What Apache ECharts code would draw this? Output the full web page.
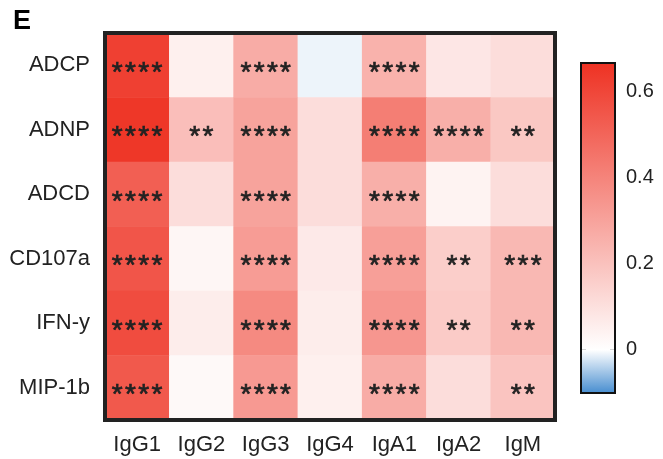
<!DOCTYPE html>
<html>
<head>
<meta charset="utf-8">
<script src="https://cdn.jsdelivr.net/npm/echarts@6/dist/echarts.min.js"></script>
<style>
html, body { margin: 0; padding: 0; background: #fff; }
#main { width: 663px; height: 459px; }
</style>
</head>
<body>
<div id="main"></div>
<script>
var isotypes = ['IgG1', 'IgG2', 'IgG3', 'IgG4', 'IgA1', 'IgA2', 'IgM'];
var functions = ['ADCP', 'ADNP', 'ADCD', 'CD107a', 'IFN-y', 'MIP-1b'];

// correlation per row (function), columns follow isotypes
var valADCP   = [0.62, 0.05, 0.27, -0.01, 0.25, 0.08, 0.11];
var valADNP   = [0.65, 0.21, 0.30, 0.11, 0.42, 0.26, 0.18];
var valADCD   = [0.52, 0.11, 0.30, 0.11, 0.26, 0.04, 0.11];
var valCD107a = [0.55, 0.03, 0.32, 0.07, 0.31, 0.16, 0.23];
var valIFNy   = [0.58, 0.06, 0.38, 0.06, 0.34, 0.17, 0.23];
var valMIP1b  = [0.54, 0.02, 0.33, 0.05, 0.27, 0.11, 0.19];

var sigADCP   = ['****', '', '****', '', '****', '', ''];
var sigADNP   = ['****', '**', '****', '', '****', '****', '**'];
var sigADCD   = ['****', '', '****', '', '****', '', ''];
var sigCD107a = ['****', '', '****', '', '****', '**', '***'];
var sigIFNy   = ['****', '', '****', '', '****', '**', '**'];
var sigMIP1b  = ['****', '', '****', '', '****', '', '**'];

var colorTicks = [0, 0.2, 0.4, 0.6];
var scaleMin = -0.1, scaleMax = 0.665;

var values = [valADCP, valADNP, valADCD, valCD107a, valIFNy, valMIP1b];
var stars = [sigADCP, sigADNP, sigADCD, sigCD107a, sigIFNy, sigMIP1b];

var RED = [238, 50, 35], WHITE = [255, 255, 255], BLUE = [72, 142, 208];
function mix(a, b, t) {
	return 'rgb(' + a.map(function(c, i) { return Math.round(c + (b[i] - c) * t); }).join(',') + ')';
}
function colorOf(v) {
	if (v < 0) return mix(WHITE, BLUE, Math.min(1, v / scaleMin));
	return mix(WHITE, RED, Math.min(1, v / scaleMax));
}
var stops = [];
for (var k = 0; k <= 153; k++) {
	stops.push(colorOf(scaleMin + (scaleMax - scaleMin) * k / 153));
}

var data = [];
for (var r = 0; r < functions.length; r++) {
	for (var c = 0; c < isotypes.length; c++) {
		data.push([c, r, values[r][c], stars[r][c]]);
	}
}

var font = 'Liberation Sans, Arial, sans-serif';
var myChart = echarts.init(document.getElementById('main'));
myChart.setOption({
	animation : false,
	title : {
		text : 'E', left : 8, top : 3,
		textStyle : { fontSize : 27, fontWeight : 'bold', color : '#000', fontFamily : font }
	},
	grid : [
		{ left : 105, top : 33, width : 450, height : 387, show : true, borderColor : '#222', borderWidth : 4, z : 10 },
		{ left : 581, top : 63, width : 34, height : 330, show : true, borderColor : '#111', borderWidth : 2, z : 10 }
	],
	xAxis : [
		{
			type : 'category', data : isotypes, gridIndex : 0,
			axisLine : { show : false }, axisTick : { show : false }, splitLine : { show : false },
			axisLabel : { fontSize : 22, color : '#222', margin : 14, fontFamily : font }
		},
		{ type : 'category', data : ['cb'], gridIndex : 1, show : false }
	],
	yAxis : [
		{
			type : 'category', data : functions, inverse : true, gridIndex : 0,
			axisLine : { show : false }, axisTick : { show : false }, splitLine : { show : false },
			axisLabel : { fontSize : 22, color : '#222', margin : 15, fontFamily : font }
		},
		{
			type : 'value', gridIndex : 1, min : scaleMin, max : scaleMax, position : 'left',
			axisLine : { show : false }, splitLine : { show : false },
			axisTick : { show : true, inside : true, length : 5, customValues : colorTicks, lineStyle : { color : '#111', width : 2 } },
			axisLabel : { show : false }
		},
		{
			type : 'value', gridIndex : 1, min : scaleMin, max : scaleMax, position : 'right',
			axisLine : { show : false }, splitLine : { show : false },
			axisTick : { show : true, inside : true, length : 5, customValues : colorTicks, lineStyle : { color : '#111', width : 2 } },
			axisLabel : { show : true, customValues : colorTicks, fontSize : 20, color : '#222', margin : 11, fontFamily : font }
		}
	],
	visualMap : {
		show : false, type : 'continuous', seriesIndex : 0, dimension : 2,
		min : scaleMin, max : scaleMax, inRange : { color : stops }
	},
	series : [
		{
			type : 'heatmap', xAxisIndex : 0, yAxisIndex : 0, data : data,
			label : {
				show : true, fontSize : 28, color : '#222', fontFamily : font, offset : [0, 8],
				textBorderColor : '#222', textBorderWidth : 0.7,
				formatter : function(p) { return p.data[3].split('').join('\u200a'); }
			}
		},
		{
			type : 'bar', xAxisIndex : 1, yAxisIndex : 1, stack : 'cb', barWidth : '100%',
			data : [scaleMax], silent : true,
			itemStyle : { color : new echarts.graphic.LinearGradient(0, 0, 0, 1, [
				{ offset : 0, color : colorOf(scaleMax) }, { offset : 1, color : '#fff' } ]) }
		},
		{
			type : 'bar', xAxisIndex : 1, yAxisIndex : 1, stack : 'cb', barWidth : '100%',
			data : [scaleMin], silent : true,
			itemStyle : { color : new echarts.graphic.LinearGradient(0, 0, 0, 1, [
				{ offset : 0, color : '#fff' }, { offset : 1, color : colorOf(scaleMin) } ]) }
		}
	]
});
</script>
</body>
</html>
